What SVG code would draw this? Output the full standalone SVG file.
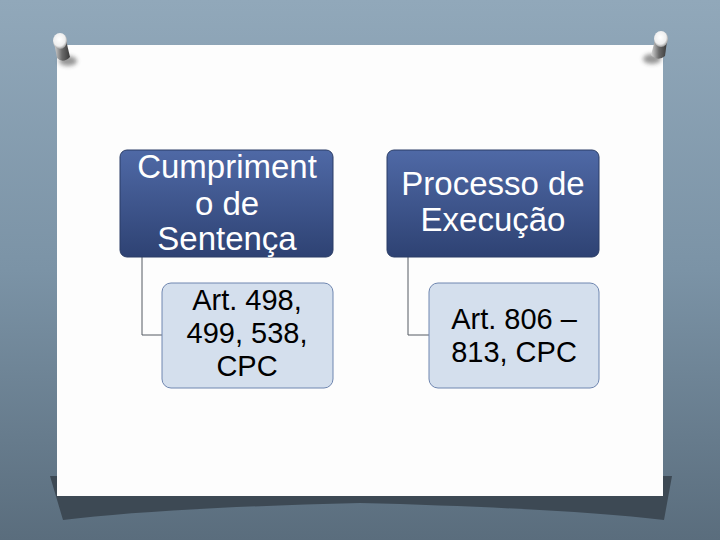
<svg xmlns="http://www.w3.org/2000/svg" width="720" height="540" viewBox="0 0 720 540">
<defs>
<linearGradient id="bg" x1="0" y1="0" x2="0" y2="1">
<stop offset="0" stop-color="#91a8ba"/>
<stop offset="0.5" stop-color="#7b93a6"/>
<stop offset="1" stop-color="#5a6d7d"/>
</linearGradient>
<linearGradient id="head" x1="0" y1="0" x2="0" y2="1">
<stop offset="0" stop-color="#4f69a6"/>
<stop offset="1" stop-color="#2e4273"/>
</linearGradient>
<linearGradient id="pin" x1="0" y1="0" x2="1" y2="0">
<stop offset="0" stop-color="#d8d8d8"/>
<stop offset="0.5" stop-color="#6a6a6a"/>
<stop offset="1" stop-color="#3a3a3a"/>
</linearGradient>
<radialGradient id="pinhead" cx="0.45" cy="0.4" r="0.6">
<stop offset="0" stop-color="#ffffff"/>
<stop offset="0.7" stop-color="#eeeeee"/>
<stop offset="1" stop-color="#9a9a9a"/>
</radialGradient>
<filter id="blur" x="-50%" y="-50%" width="200%" height="200%"><feGaussianBlur stdDeviation="2"/></filter>
<style>
.head{fill:url(#head);stroke:#2b3d66;stroke-width:1}
.child{fill:#d4dfed;stroke:#6f86b0;stroke-width:1}
.ht{font-family:"Liberation Sans",Arial,sans-serif;font-size:33px;fill:#ffffff;text-anchor:middle}
.ct{font-family:"Liberation Sans",Arial,sans-serif;font-size:29px;fill:#000000;text-anchor:middle}
.conn{fill:none;stroke:#555b63;stroke-width:1}
</style>
</defs>
<g id="background">
<rect x="0" y="0" width="720" height="540" fill="url(#bg)"/>
<path d="M50 476 L672 476 L664 520 Q560 508 360 503 Q160 508 63 520 Z" fill="#3d4954"/>
<rect x="57" y="45" width="606" height="451" fill="#fdfdfd"/>
</g>
<g id="pins">
<g id="pin-left">
<ellipse cx="68" cy="61" rx="9" ry="5" fill="#333" opacity="0.5" filter="url(#blur)"/>
<path d="M54 42 L66 40 L70 57 Q63 64 57 58 Z" fill="url(#pin)"/>
<ellipse cx="60" cy="41" rx="7" ry="8" fill="url(#pinhead)"/>
</g>
<g id="pin-right">
<ellipse cx="652" cy="59" rx="9" ry="5" fill="#333" opacity="0.5" filter="url(#blur)"/>
<path d="M655 40 L667 41 L665 56 Q658 62 651 55 Z" fill="url(#pin)"/>
<ellipse cx="661" cy="39" rx="7" ry="8" fill="url(#pinhead)"/>
</g>
</g>
<g id="connectors">
<path class="conn" d="M142 257 V335 H162"/>
<path class="conn" d="M408 257 V335 H429"/>
</g>
<g id="node-cumprimento">
<rect class="head" x="120" y="150" width="213" height="107" rx="7"/>
<text class="ht" x="227" y="178">Cumpriment</text>
<text class="ht" x="227" y="215">o de</text>
<text class="ht" x="227" y="250">Sentença</text>
</g>
<g id="node-art498">
<rect class="child" x="162" y="283" width="171" height="105" rx="9"/>
<text class="ct" x="247" y="310">Art. 498,</text>
<text class="ct" x="247" y="343">499, 538,</text>
<text class="ct" x="247" y="376">CPC</text>
</g>
<g id="node-processo">
<rect class="head" x="387" y="150" width="212" height="107" rx="7"/>
<text class="ht" x="493" y="195">Processo de</text>
<text class="ht" x="493" y="231">Execução</text>
</g>
<g id="node-art806">
<rect class="child" x="429" y="283" width="170" height="105" rx="9"/>
<text class="ct" x="514" y="329">Art. 806 –</text>
<text class="ct" x="514" y="362">813, CPC</text>
</g>
</svg>
